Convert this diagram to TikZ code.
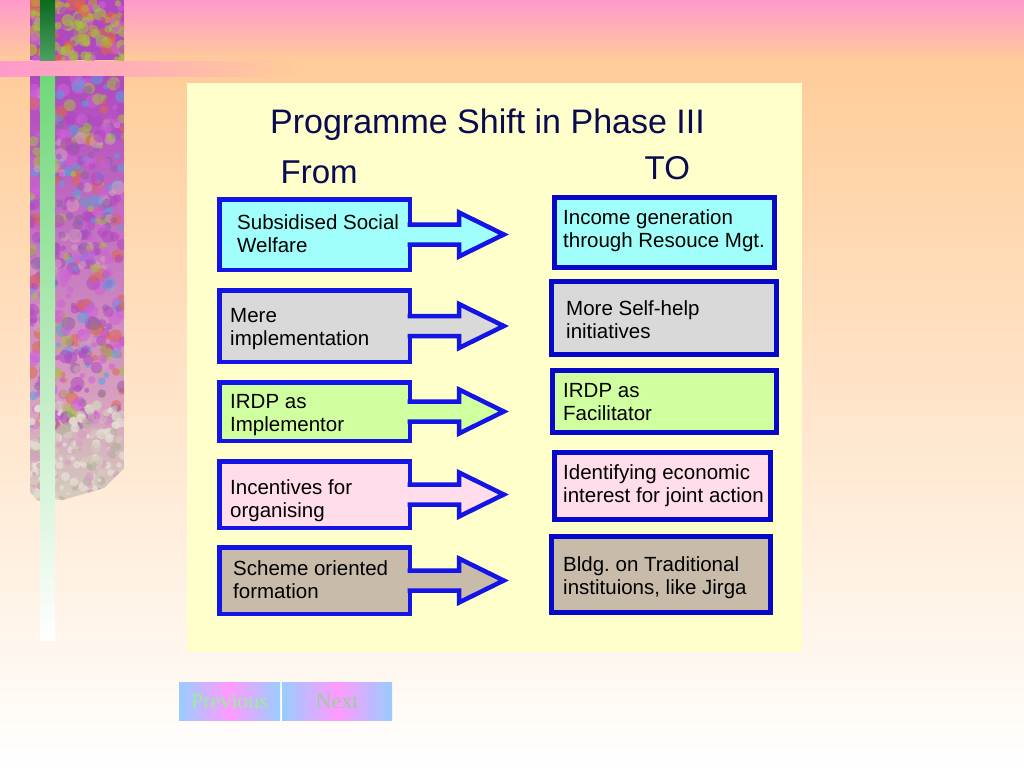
\documentclass[tikz,border=0pt]{standalone}
\usepackage{fontspec}
\setmainfont{Liberation Sans}
\newfontfamily\timesfont{Liberation Serif}
\usetikzlibrary{calc}
\definecolor{bgpink}{HTML}{FF99CC}
\definecolor{bgpeach}{HTML}{FFCC99}
\definecolor{panel}{HTML}{FFFFCC}
\definecolor{lblue}{HTML}{1414E6}
\definecolor{rblue}{HTML}{0808C8}
\definecolor{titlecol}{HTML}{0A0A50}
\definecolor{fcyan}{HTML}{A0FFFA}
\definecolor{fgray}{HTML}{D9D9D9}
\definecolor{fgreen}{HTML}{D0FFA0}
\definecolor{fpink}{HTML}{FFDDEA}
\definecolor{ftan}{HTML}{C9BBAA}
\definecolor{btnblue}{HTML}{99CCFF}
\definecolor{btnpink}{HTML}{FF99FF}
\definecolor{prevtext}{HTML}{99EE99}
\definecolor{nexttext}{HTML}{9FCC9F}
\definecolor{tA}{HTML}{B048C0}
\definecolor{tB}{HTML}{D060D8}
\definecolor{tC}{HTML}{E06848}
\definecolor{tD}{HTML}{A8C040}
\definecolor{tE}{HTML}{58A0E0}
\definecolor{tF}{HTML}{D8A0C0}
\definecolor{tG}{HTML}{D4CCBC}
\definecolor{tH}{HTML}{B8B0A0}
\definecolor{tI}{HTML}{E6E2D6}
\definecolor{tJ}{HTML}{C0A040}
\definecolor{tK}{HTML}{9060A8}
\definecolor{gtop}{HTML}{0B6B1F}
\definecolor{gmid}{HTML}{4CA060}
\definecolor{glow1}{HTML}{70D878}
\definecolor{glow2}{HTML}{A8F8A8}
\newcommand\mybox[8]{%
  \pgfmathsetmacro\bw{#4-#2-#8}%
  \pgfmathsetmacro\bh{#5-#3-#8}%
  \node[#7, line width=#8pt, fill=#6, minimum width=\bw pt, minimum height=\bh pt, anchor=north west] (#1) at (#2+#8/2,#3+#8/2) {};%
}
\newcommand\blockarrow[3]{%
  \coordinate (#3) at ($(#1.east)+(94,0)$);
  \fill[#2] ($(#1.east)+(-4,-10)$) -- ($(#1.east)+(49.25,-10)$) -- ($(#1.east)+(49.25,-22)$) -- (#3) -- ($(#1.east)+(49.25,22)$) -- ($(#1.east)+(49.25,10)$) -- ($(#1.east)+(-4,10)$) -- cycle;
  \draw[arrowline] ($(#1.east)+(-2.25,-10)$) -- ($(#1.east)+(49.25,-10)$) -- ($(#1.east)+(49.25,-22)$) -- (#3) -- ($(#1.east)+(49.25,22)$) -- ($(#1.east)+(49.25,10)$) -- ($(#1.east)+(-2.25,10)$);
}
\begin{document}
\begin{tikzpicture}[x=1pt,y=-1pt,
  lbox/.style={draw=lblue, rectangle, inner sep=0pt, outer sep=0pt},
  rbox/.style={draw=rblue, rectangle, inner sep=0pt, outer sep=0pt},
  arrowline/.style={draw=lblue, line width=4.5pt, line join=miter},
  boxtext/.style={font=\fontsize{20.5}{23}\selectfont, align=left, inner sep=0pt, anchor=north west, text=black},
  headtext/.style={text=titlecol, inner sep=0pt, anchor=base west},
  btn/.style={inner sep=0pt, outer sep=0pt, anchor=north west, left color=btnblue, right color=btnblue, middle color=btnpink, font=\timesfont\fontsize{22}{24}\selectfont}
]
\useasboundingbox (0,0) rectangle (1024,768);
% background
\shade[top color=bgpink, bottom color=bgpeach] (0,0) rectangle (1024,61);
\shade[top color=bgpeach, bottom color=white] (0,61) rectangle (1024,768);
\shade[left color=bgpink, right color=bgpeach] (0,61) rectangle (300,76);
% textured strip
\pgfmathsetseed{42}
\pgfmathdeclarerandomlist{colA}{{tA}{tB}{tC}{tD}{tE}{tF}{tA}{tB}{tK}}
\pgfmathdeclarerandomlist{colB}{{tA}{tB}{tC}{tD}{tD}{tJ}{tD}}
\pgfmathdeclarerandomlist{colC}{{tG}{tH}{tI}{tG}{tI}{tF}}
\begin{scope}
  \clip (30,0) rectangle (124,60);
  \fill[tA] (30,0) rectangle (124,60);
  \foreach \i in {1,...,160}{
    \pgfmathsetmacro\rx{30+94*rnd}
    \pgfmathsetmacro\ry{60*rnd}
    \pgfmathsetmacro\rr{2.5+4*rnd}
    \pgfmathrandomitem{\cc}{colB}
    \fill[\cc, opacity=0.6] (\rx,\ry) circle[radius=\rr];
  }
\end{scope}
\begin{scope}
  \clip (30,76) -- (124,76) -- (124,468) -- (116,476) -- (104,488) -- (90,492) -- (76,496) -- (62,500) -- (50,498) -- (38,501) -- (30,492) -- cycle;
  \shade[top color=tA, bottom color=tF] (30,76) rectangle (124,400);
  \shade[top color=tF, bottom color=tG] (30,400) rectangle (124,505);
  \foreach \i in {1,...,520}{
    \pgfmathsetmacro\rx{30+94*rnd}
    \pgfmathsetmacro\ry{76+350*rnd}
    \pgfmathsetmacro\rr{2.5+4.5*rnd}
    \pgfmathrandomitem{\cc}{colA}
    \fill[\cc, opacity=0.55] (\rx,\ry) circle[radius=\rr];
  }
  \foreach \i in {1,...,220}{
    \pgfmathsetmacro\rx{30+94*rnd}
    \pgfmathsetmacro\ry{405+100*rnd}
    \pgfmathsetmacro\rr{2+3.5*rnd}
    \pgfmathrandomitem{\cc}{colC}
    \fill[\cc, opacity=0.7] (\rx,\ry) circle[radius=\rr];
  }
\end{scope}
% green bar
\shade[top color=gtop, bottom color=gmid] (40,0) rectangle (55,60);
\shade[top color=glow1, middle color=glow2, bottom color=white] (40,76) rectangle (55,640);
% panel
\fill[panel] (187,83) rectangle (802,652);
% headings
\node[headtext, anchor=base, font=\fontsize{34}{40}\selectfont] (title) at (487.5,133.3) {Programme Shift in Phase III};
\node[headtext, font=\fontsize{33}{38}\selectfont] (from) at (280.5,183.3) {From};
\node[headtext, font=\fontsize{33}{38}\selectfont] (to) at (644.5,179) {TO};
% left boxes
\mybox{l1}{217}{197}{412}{272}{fcyan}{lbox}{4.5}
\mybox{l2}{217}{288}{412}{364}{fgray}{lbox}{4.5}
\mybox{l3}{217}{380}{412}{443}{fgreen}{lbox}{4.5}
\mybox{l4}{217}{459}{412}{530}{fpink}{lbox}{4.5}
\mybox{l5}{217}{545}{412}{616}{ftan}{lbox}{4.5}
\blockarrow{l1}{fcyan}{t1}
\blockarrow{l2}{fgray}{t2}
\blockarrow{l3}{fgreen}{t3}
\blockarrow{l4}{fpink}{t4}
\blockarrow{l5}{ftan}{t5}
% right boxes
\mybox{r1}{552}{195}{777}{270}{fcyan}{rbox}{5}
\mybox{r2}{549}{279}{779}{357}{fgray}{rbox}{5}
\mybox{r3}{550}{368}{779}{435}{fgreen}{rbox}{5}
\mybox{r4}{552}{450}{773}{522}{fpink}{rbox}{5}
\mybox{r5}{549}{534}{773}{615}{ftan}{rbox}{5}
% texts
\node[boxtext] (l1t) at (237,214.5) {Subsidised Social\\Welfare};
\node[boxtext] (l2t) at (230,308) {Mere\\implementation};
\node[boxtext] (l3t) at (230,394.5) {IRDP as\\Implementor};
\node[boxtext] (l4t) at (230,479) {Incentives for\\organising};
\node[boxtext] (l5t) at (233,560) {Scheme oriented\\formation};
\node[boxtext] (r1t) at (563,209) {Income generation\\through Resouce Mgt.};
\node[boxtext] (r2t) at (566,300.5) {More Self-help\\initiatives};
\node[boxtext] (r3t) at (563,383) {IRDP as\\Facilitator};
\node[boxtext] (r4t) at (563,464) {Identifying economic\\interest for joint action};
\node[boxtext] (r5t) at (563,556.5) {Bldg.\ on Traditional\\instituions, like Jirga};
% buttons
\node[btn, minimum width=101pt, minimum height=38pt, text=prevtext] (prev) at (179,682) {Previous};
\node[btn, minimum width=110pt, minimum height=38pt, text=nexttext] (next) at (282,682) {Next};
\end{tikzpicture}
\end{document}
